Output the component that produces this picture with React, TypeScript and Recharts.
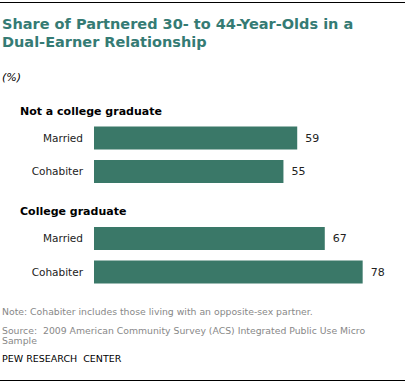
import { BarChart, Bar, XAxis, YAxis, LabelList } from "recharts";

const rowKeys = ["h1", "m1", "c1", "h2", "m2", "c2"];
const rowLabels = ["Not a college graduate", "Married", "Cohabiter", "College graduate", "Married", "Cohabiter"];
const rowIsHeader = [true, false, false, true, false, false];
const values = [null, 59, 55, null, 67, 78];

const data = rowKeys.map((key, i) => ({
  key,
  label: rowLabels[i],
  header: rowIsHeader[i],
  value: values[i],
}));

const FONT = "Verdana, 'DejaVu Sans', sans-serif";
const BAR = "#3a7868";

function RowTick(props: any) {
  const { x, y, payload } = props;
  const row = data.find((d) => d.key === payload.value);
  if (!row) return null;
  if (row.header) {
    return (
      <text x={x - 63} y={y + 6} dy="0.35em" textAnchor="start" fontSize={11} fontWeight="bold" fill="#000" fontFamily={FONT}>
        {row.label}
      </text>
    );
  }
  return (
    <text x={x} y={y} dy="0.35em" textAnchor="end" fontSize={10.5} fill="#222" fontFamily={FONT}>
      {row.label}
    </text>
  );
}

export default function App() {
  return (
    <div style={{ position: "absolute", left: 0, top: 0, width: 407, height: 383, background: "#fff", fontFamily: FONT, overflow: "hidden" }}>
      <div style={{ position: "absolute", left: 0, top: 2, width: 405, height: 1, background: "#000" }} />
      <div style={{ position: "absolute", left: 2, top: 15, color: "#357b74", fontWeight: "bold", fontSize: 14.5, lineHeight: "18px", whiteSpace: "nowrap" }}>
        Share of Partnered 30- to 44-Year-Olds in a
        <br />
        Dual-Earner Relationship
      </div>
      <div style={{ position: "absolute", left: 2, top: 71, fontStyle: "italic", fontSize: 11, color: "#000" }}>(%)</div>

      <div style={{ position: "absolute", left: 0, top: 0 }}>
        <BarChart width={407} height={383} data={data} layout="vertical" margin={{ top: 88, right: 3, bottom: 94, left: 0 }}>
          <XAxis type="number" domain={[0, 90]} hide />
          <YAxis
            type="category"
            dataKey="key"
            width={94}
            axisLine={false}
            tickLine={false}
            tickSize={0}
            tickMargin={11}
            tick={<RowTick />}
            interval={0}
          />
          <Bar dataKey="value" fill={BAR} barSize={23} isAnimationActive={false}>
            <LabelList dataKey="value" position="right" offset={8} fill="#222" fontSize={11} fontFamily={FONT} />
          </Bar>
        </BarChart>
      </div>

      <div style={{ position: "absolute", left: 2, top: 307, width: 400, fontSize: 9.3, lineHeight: "10px", color: "#888" }}>
        Note: Cohabiter includes those living with an opposite-sex partner.
      </div>
      <div style={{ position: "absolute", left: 2, top: 326, width: 375, fontSize: 9.3, lineHeight: "10px", color: "#888" }}>
        Source:&nbsp; 2009 American Community Survey (ACS) Integrated Public Use Micro Sample
      </div>
      <div style={{ position: "absolute", left: 2, top: 354, fontSize: 9.5, lineHeight: "10px", color: "#000" }}>
        PEW RESEARCH&nbsp; CENTER
      </div>
      <div style={{ position: "absolute", left: 0, top: 380, width: 405, height: 1, background: "#000" }} />
    </div>
  );
}
